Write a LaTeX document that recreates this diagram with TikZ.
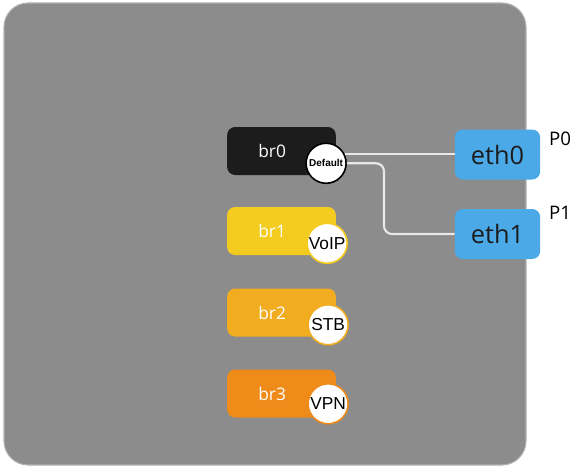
\documentclass[tikz,border=0pt]{standalone}
\usepackage{fontspec}
\setmainfont{Open Sans}
\newfontfamily\circfont{Liberation Sans}
\definecolor{panelgray}{HTML}{8C8C8C}
\definecolor{brzero}{HTML}{1C1C1C}
\definecolor{brone}{HTML}{F4CB1F}
\definecolor{brtwo}{HTML}{F1AC1F}
\definecolor{brthree}{HTML}{EE8B19}
\definecolor{ethblue}{HTML}{4CA9E8}
\definecolor{linkgray}{HTML}{E8E8E8}
\tikzset{
  bridge/.style = {shape = rectangle, rounded corners = 6pt, minimum width = 81.5pt, minimum height = 36pt},
  brtext/.style = {text = white, font = \fontsize{13}{15}\selectfont, xshift = -7pt},
  tag/.style = {shape = circle, fill = white, draw, line width = 1.2pt, minimum size = 30pt, inner sep = 0pt, font = \circfont\fontsize{13}{15}\selectfont},
  port/.style = {shape = rectangle, rounded corners = 6pt, fill = ethblue, minimum width = 64pt, minimum height = 37.5pt, text = brzero, font = \fontsize{19}{22}\selectfont},
  link/.style = {draw = linkgray, line width = 1.6pt, rounded corners = 6pt}
}
\begin{document}
\begin{tikzpicture}[x = 0.75pt, y = -0.75pt]
\useasboundingbox (0,0) rectangle (574,467);
\fill[panelgray, rounded corners = 18pt, draw = gray!60, line width = 0.8pt] (4,3) rectangle (526,465);
\node at (281.5,151) [bridge, fill = brzero, label = {[brtext]center:br0}](br0){};
\node at (281.5,231) [bridge, fill = brone, label = {[brtext]center:br1}](br1){};
\node at (281.5,312.5) [bridge, fill = brtwo, label = {[brtext]center:br2}](br2){};
\node at (281.5,393.5) [bridge, fill = brthree, label = {[brtext]center:br3}](br3){};
\node at ([shift = {(-10,-12)}]br0.south east) [tag, draw = black, font = \circfont\bfseries\fontsize{7.5}{9}\selectfont](Default){Default};
\node at ([shift = {(-9,-12)}]br1.south east) [tag, draw = brone](VoIP){VoIP};
\node at ([shift = {(-8,-12)}]br2.south east) [tag, draw = brtwo](STB){STB};
\node at ([shift = {(-8,-14)}]br3.south east) [tag, draw = brthree](VPN){VPN};
\node at (497.5,154.5) [port](eth0){eth0};
\node at (497.5,234) [port](eth1){eth1};
\node at (560,139) [font = \fontsize{14}{16}\selectfont](P0){P0};
\node at (560,213) [font = \fontsize{14}{16}\selectfont](P1){P1};
\coordinate (bend) at (384,0);
\draw[link] (Default.27) -- (Default.27 -| eth0.west);
\draw[link] (Default.east) -| (bend |- eth1.west) -- (eth1.west);
\end{tikzpicture}
\end{document}
